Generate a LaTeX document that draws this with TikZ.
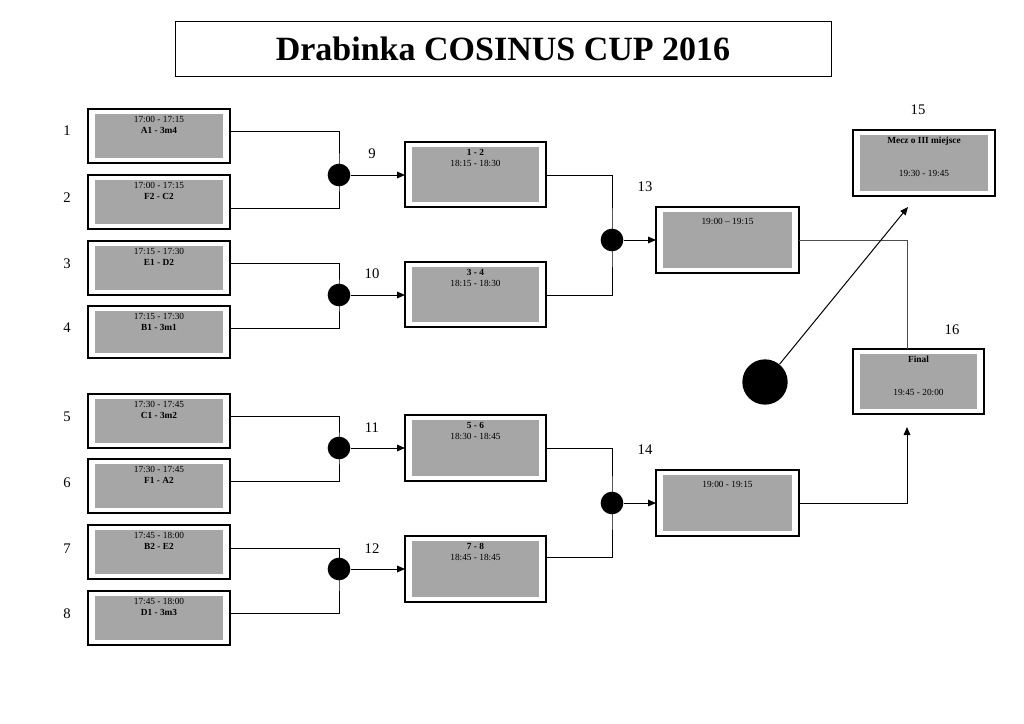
\documentclass[tikz,border=0pt]{standalone}
\usepackage{fontspec}
\setmainfont{Liberation Serif}
\usetikzlibrary{arrows.meta}
\begin{document}
\begin{tikzpicture}[x=0.75pt,y=-0.75pt,
  outerbox/.style={draw=black,line width=0.8pt,fill=white},
  innerbox/.style={fill=black!35,draw=none},
  conn/.style={line width=0.75pt,black},
  arr/.style={conn,-{Triangle[length=6pt,width=5pt]}},
  dotnode/.style={circle,fill=black,inner sep=0pt,minimum size=17pt},
  numlbl/.style={font=\fontsize{11}{13}\selectfont},
  small/.style={font=\fontsize{7}{8.4}\selectfont,align=center,anchor=north,inner sep=0pt}]
\useasboundingbox (0,0) rectangle (1024,724);
% title
\node[draw=black,line width=0.7pt,minimum width=656*0.75pt,minimum height=55*0.75pt,inner sep=0pt,
  font=\fontsize{25.5}{30}\selectfont\bfseries] (title) at (503,48.5) {Drabinka COSINUS CUP 2016};
% macro for a match box
\newcommand{\matchbox}[7]{% name, x1,y1,x2,y2, inset, text
  \draw[outerbox] (#2,#3) rectangle (#4,#5);
  \fill[innerbox] (#2+#6+2,#3+#6) rectangle (#4-#6-2,#5-#6);
  \coordinate (#1-nw) at (#2,#3);
  \coordinate (#1-se) at (#4,#5);
  \node[small] (#1) at ({(#2+#4)/2},#3+#6+2) {#7};
}
% round 1
\matchbox{m1}{88}{109}{230}{163}{5}{17:00 - 17:15\\\textbf{A1 - 3m4}}
\matchbox{m2}{88}{175}{230}{229}{5}{17:00 - 17:15\\\textbf{F2 - C2}}
\matchbox{m3}{88}{241}{230}{295}{5}{17:15 - 17:30\\\textbf{E1 - D2}}
\matchbox{m4}{88}{306}{230}{358}{5}{17:15 - 17:30\\\textbf{B1 - 3m1}}
\matchbox{m5}{88}{394}{230}{448}{5}{17:30 - 17:45\\\textbf{C1 - 3m2}}
\matchbox{m6}{88}{459}{230}{513}{5}{17:30 - 17:45\\\textbf{F1 - A2}}
\matchbox{m7}{88}{525}{230}{579}{5}{17:45 - 18:00\\\textbf{B2 - E2}}
\matchbox{m8}{88}{591}{230}{645}{5}{17:45 - 18:00\\\textbf{D1 - 3m3}}
% round 2
\matchbox{m9}{405}{142}{546}{207}{5}{\textbf{1 - 2}\\18:15 - 18:30}
\matchbox{m10}{405}{262}{546}{327}{5}{\textbf{3 - 4}\\18:15 - 18:30}
\matchbox{m11}{405}{415}{546}{481}{5}{\textbf{5 - 6}\\18:30 - 18:45}
\matchbox{m12}{405}{536}{546}{602}{5}{\textbf{7 - 8}\\18:45 - 18:45}
% semis
\matchbox{m13}{656}{207}{799}{273}{5}{\\[-1pt]19:00 -- 19:15}
\matchbox{m14}{656}{470}{799}{536}{5}{\\[-1pt]19:00 - 19:15}
% finals
\matchbox{m15}{853}{130}{995}{196}{5}{\textbf{Mecz o III miejsce}\\[16pt]19:30 - 19:45}
\matchbox{m16}{853}{349}{984}{414}{5}{\textbf{Final}\\[16pt]19:45 - 20:00}
% numbers
\foreach \n/\y in {1/131,2/198,3/264,4/328,5/417,6/483,7/549,8/614}
  \node[numlbl] (n\n) at (67,\y) {\n};
\node[numlbl] (n9) at (372,154) {9};
\node[numlbl] (n10) at (372,274) {10};
\node[numlbl] (n11) at (372,428) {11};
\node[numlbl] (n12) at (372,549) {12};
\node[numlbl] (n13) at (645,187) {13};
\node[numlbl] (n14) at (645,450) {14};
\node[numlbl] (n15) at (918,110) {15};
\node[numlbl] (n16) at (952,330) {16};
% dots
\node[dotnode] (d1) at (339,175) {};
\node[dotnode] (d2) at (339,295) {};
\node[dotnode] (d3) at (339,448) {};
\node[dotnode] (d4) at (339,569) {};
\node[dotnode] (d5) at (612,240) {};
\node[dotnode] (d6) at (612,503) {};
\node[circle,fill=black,inner sep=0pt,minimum size=34pt] (bigdot) at (765,382) {};
% round 1 connectors
\draw[conn] (230,131) -| (d1.center) |- (230,208);
\draw[conn] (230,263) -| (d2.center) |- (230,328);
\draw[conn] (230,416) -| (d3.center) |- (230,481);
\draw[conn] (230,548) -| (d4.center) |- (230,613);
\draw[arr] (d1) -- (405,175);
\draw[arr] (d2) -- (405,295);
\draw[arr] (d3) -- (405,448);
\draw[arr] (d4) -- (405,569);
% round 2 connectors
\draw[conn] (546,175) -| (d5.center) |- (546,295);
\draw[conn] (546,448) -| (d6.center) |- (546,557);
\draw[arr] (d5) -- (656,240);
\draw[arr] (d6) -- (656,503);
% to final
\coordinate (f16top) at (907,349);
\coordinate (f16bot) at (907,427);
\coordinate (f15bot) at (908,207);
\draw[conn,black!70] (799,240) -| (f16top);
\draw[arr] (799,503) -| (f16bot);
\draw[arr] (bigdot) -- (f15bot);
\end{tikzpicture}
\end{document}
